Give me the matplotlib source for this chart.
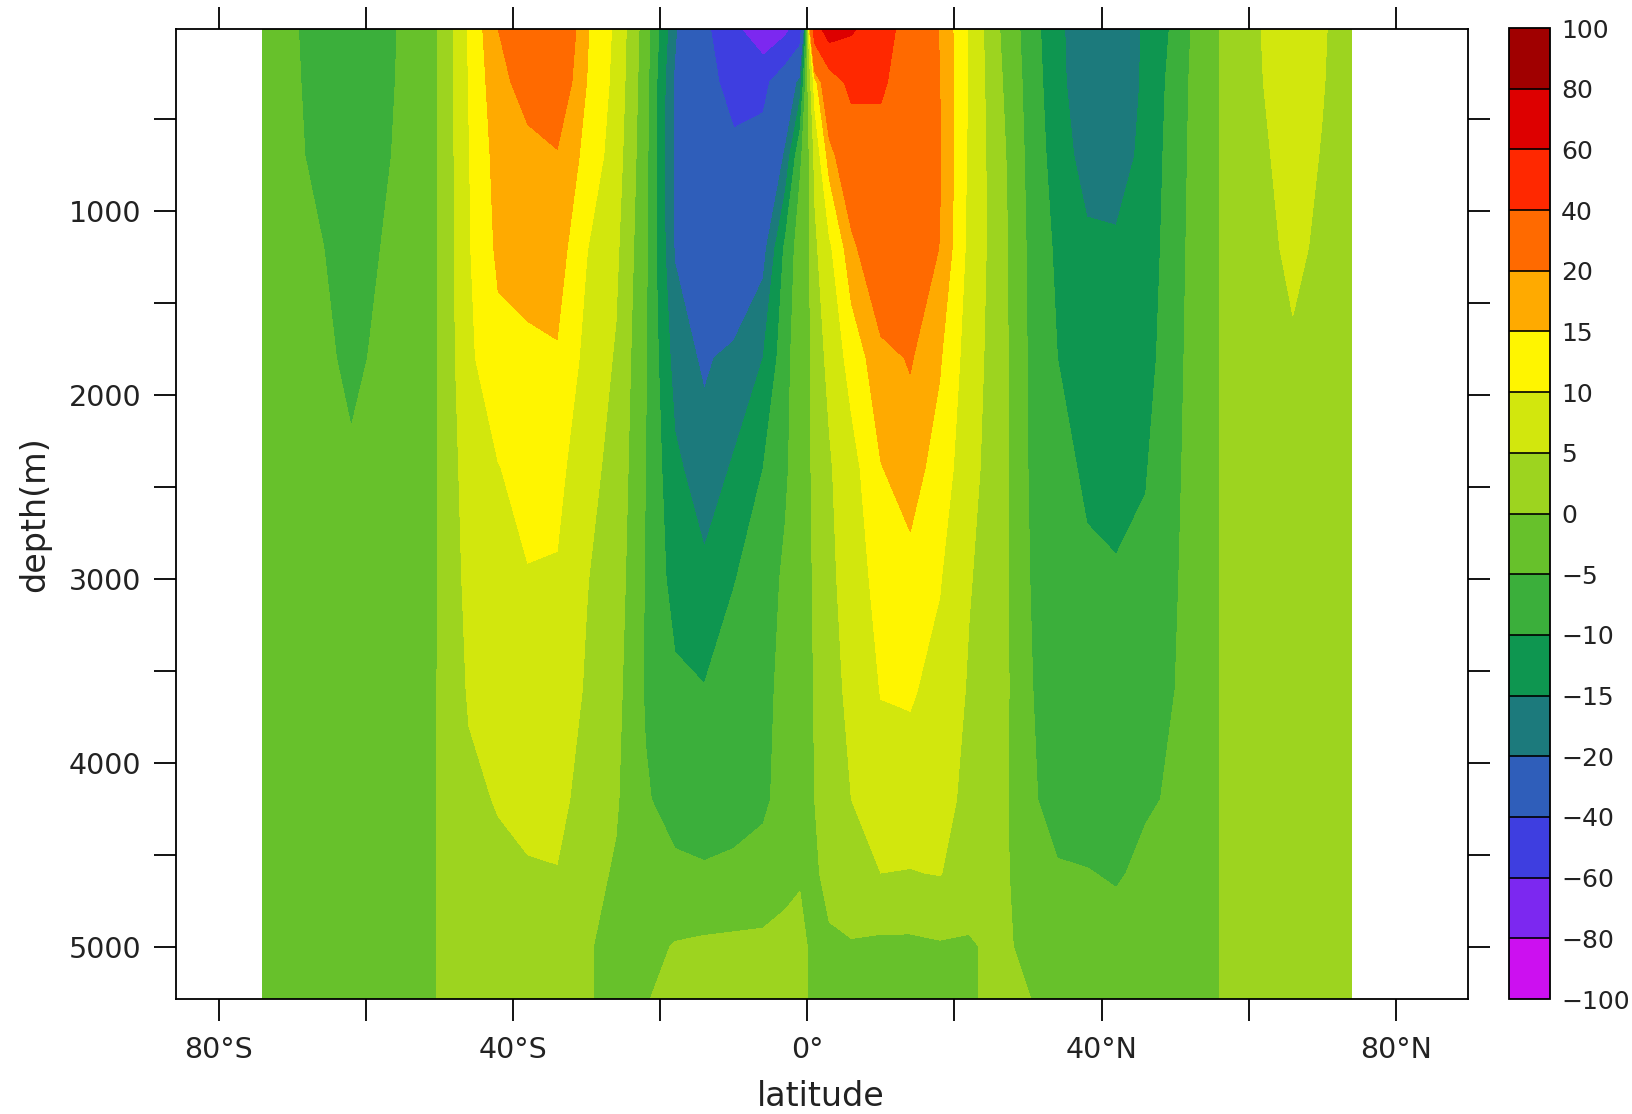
import numpy as np
import matplotlib
matplotlib.use("Agg")
import matplotlib.pyplot as plt
from matplotlib.colors import ListedColormap, BoundaryNorm

# ---------------- data ----------------
lats = [-74, -70, -66, -62, -58, -54, -50, -46, -42, -38, -34, -30, -26, -22,
        -18, -14, -10, -6, -3, -1, 0, 1, 3, 6, 10, 14, 18, 22, 26, 30, 34,
        38, 42, 46, 50, 54, 58, 62, 66, 70, 74]
depths = [12, 300, 700, 1200, 1800, 2400, 3000, 3600, 4200, 4600, 5000, 5285]

# one profile (values at the depths above) per latitude
profiles = [
    [-3.0, -3.0, -3.0, -3.0, -3.0, -3.0, -3.0, -3.0, -3.0, -3.0, -3.0, -3.0],   # -74
    [-4.6, -4.5, -4.4, -4.2, -4.0, -3.8, -3.5, -3.3, -3.2, -3.1, -3.0, -3.0],   # -70
    [-6.5, -6.2, -5.8, -4.9, -4.5, -4.0, -3.8, -3.5, -3.3, -3.2, -3.1, -3.0],   # -66
    [-8.0, -7.5, -7.0, -6.3, -5.5, -4.7, -4.3, -4.0, -3.7, -3.5, -3.3, -3.2],   # -62
    [-6.5, -6.2, -5.7, -5.0, -4.6, -4.2, -4.0, -3.8, -3.5, -3.3, -3.2, -3.1],   # -58
    [-3.8, -3.8, -3.8, -3.7, -3.6, -3.5, -3.4, -3.3, -3.2, -3.2, -3.1, -3.1],   # -54
    [0.3, 0.3, 0.3, 0.3, 0.3, 0.3, 0.3, 0.3, 0.3, 0.3, 0.3, 0.3],               # -50
    [10.5, 10.2, 9.8, 9.6, 9.0, 7.5, 6.5, 5.5, 4.0, 3.5, 3.0, 2.8],             # -46
    [20.0, 18.5, 17.0, 16.0, 13.5, 9.8, 8.5, 7.5, 5.3, 4.0, 3.2, 3.0],          # -42
    [26.0, 22.0, 18.5, 17.0, 14.0, 11.8, 9.7, 8.5, 6.5, 4.5, 3.5, 3.0],         # -38
    [28.0, 25.0, 19.5, 17.5, 14.5, 11.5, 9.5, 8.0, 6.5, 4.8, 3.5, 3.0],         # -34
    [15.5, 15.0, 13.5, 10.2, 8.5, 6.5, 5.2, 4.5, 3.0, 1.5, 0.3, 0.3],           # -30
    [9.0, 8.5, 7.5, 6.0, 4.5, 3.5, 2.5, 1.5, 0.5, -0.5, -1.0, -1.0],            # -26
    [-2.5, -3.0, -3.5, -4.0, -4.5, -5.0, -5.3, -5.5, -4.5, -2.5, -1.5, -0.2],   # -22
    [-19.0, -21.0, -21.0, -20.5, -17.0, -14.0, -12.0, -9.0, -7.0, -4.0, 0.3, 1.0],   # -18
    [-36.0, -35.0, -31.0, -27.0, -21.0, -17.5, -14.0, -9.8, -7.5, -4.5, 0.8, 1.5],   # -14
    [-55.0, -45.0, -37.0, -31.0, -18.0, -14.5, -10.2, -8.0, -7.0, -4.0, 1.0, 1.5],   # -10
    [-75.0, -45.0, -33.0, -22.0, -15.0, -10.0, -8.0, -7.0, -6.0, -3.0, 1.0, 1.0],    # -6
    [-65.0, -28.0, -19.0, -9.0, -7.0, -6.0, -4.0, -3.0, -3.0, -1.0, 1.0, 2.0],       # -3
    [-50.0, -18.0, -6.0, -2.5, -1.5, -1.5, -1.5, -2.0, -2.5, -0.5, 1.5, 2.0],        # -1
    [0.0, -1.0, -2.0, -2.0, -2.0, -2.0, -2.0, -2.5, -3.0, -1.0, 0.0, 0.0],           # 0
    [50.0, 12.0, 6.0, 4.0, 3.0, 2.0, 1.0, 0.5, 0.0, -1.0, -1.5, -2.0],               # 1
    [70.0, 30.0, 17.0, 9.0, 6.0, 4.5, 4.0, 3.5, 3.0, 2.0, -1.0, -1.5],               # 3
    [62.0, 45.0, 28.0, 18.0, 12.0, 8.0, 7.0, 6.0, 5.0, 4.0, -0.5, -1.5],             # 6
    [48.0, 42.0, 35.0, 28.0, 18.0, 14.8, 12.0, 10.2, 8.0, 5.0, -1.0, -2.0],          # 10
    [32.0, 33.0, 31.0, 27.0, 20.5, 17.0, 13.5, 10.5, 8.0, 4.8, -1.0, -2.5],          # 14
    [19.5, 20.0, 20.5, 19.8, 15.5, 13.0, 10.3, 8.5, 7.0, 5.2, -0.5, -2.0],           # 18
    [9.5, 9.5, 9.0, 8.5, 7.5, 6.5, 5.3, 4.5, 3.5, 2.5, -0.5, -0.5],                  # 22
    [0.3, 1.0, 2.0, 2.5, 2.5, 2.5, 2.5, 2.5, 2.0, 2.0, 1.0, 1.0],                    # 26
    [-7.0, -6.5, -6.0, -5.5, -5.2, -5.0, -4.8, -4.5, -4.0, -3.5, -1.0, 0.2],         # 30
    [-14.0, -13.5, -12.5, -11.0, -10.0, -9.0, -8.0, -7.5, -7.0, -4.5, -3.0, -2.0],   # 34
    [-18.0, -18.5, -17.0, -14.0, -13.0, -10.5, -9.5, -8.5, -7.5, -4.8, -3.0, -2.0],  # 38
    [-19.5, -19.0, -17.5, -14.2, -13.5, -12.5, -9.3, -8.5, -7.0, -5.5, -3.0, -2.0],  # 42
    [-14.0, -14.0, -13.5, -13.0, -12.0, -10.3, -9.0, -8.0, -5.5, -4.0, -3.0, -2.0],  # 46
    [-9.0, -8.0, -7.5, -7.0, -6.5, -6.0, -5.5, -5.0, -4.5, -3.5, -3.0, -2.5],        # 50
    [-1.5, -1.5, -1.5, -1.5, -1.5, -1.5, -1.5, -1.5, -1.5, -1.5, -1.5, -1.5],        # 54
    [1.5, 1.5, 1.5, 1.5, 1.5, 1.5, 1.5, 1.5, 1.5, 1.5, 1.5, 1.5],                    # 58
    [5.3, 5.0, 4.5, 4.0, 3.5, 3.0, 3.0, 3.0, 3.0, 3.0, 3.0, 3.0],                    # 62
    [8.0, 7.5, 6.5, 5.8, 4.5, 3.5, 3.0, 3.0, 3.0, 3.0, 3.0, 3.0],                    # 66
    [5.4, 5.2, 4.8, 4.3, 3.8, 3.3, 3.0, 3.0, 3.0, 3.0, 3.0, 3.0],                    # 70
    [3.0, 3.0, 3.0, 3.0, 3.0, 3.0, 3.0, 3.0, 3.0, 3.0, 3.0, 3.0],                    # 74
]

levels = [-100, -80, -60, -40, -20, -15, -10, -5, 0, 5, 10, 15, 20, 40, 60, 80, 100]
level_labels = ["\u2212100", "\u221280", "\u221260", "\u221240", "\u221220", "\u221215",
                "\u221210", "\u22125", "0", "5", "10", "15", "20", "40", "60", "80", "100"]
colors = ["#CC10F0", "#7C28F0", "#3E3EE0", "#2F5EBA", "#1C7A7C", "#0E9650",
          "#3BAF3B", "#67C12B", "#9DD41F", "#D2E70D", "#FFF500", "#FFAA00",
          "#FF6A00", "#FF2800", "#DD0000", "#A00000"]

xtick_vals = [-80, -60, -40, -20, 0, 20, 40, 60, 80]
xtick_labels = ["80\u00b0S", "", "40\u00b0S", "", "0\u00b0", "", "40\u00b0N", "", "80\u00b0N"]
ytick_vals = [500, 1000, 1500, 2000, 2500, 3000, 3500, 4000, 4500, 5000]
ytick_labels = ["", "1000", "", "2000", "", "3000", "", "4000", "", "5000"]

# ---------------- plot ----------------
field = np.array(profiles).T   # shape (depth, lat)

fig = plt.figure(figsize=(16.32, 11.14), dpi=100)
ax = fig.add_axes([0.10766, 0.10323, 0.79180, 0.87050])

cmap = ListedColormap(colors)
norm = BoundaryNorm(levels, cmap.N)
cs = ax.contourf(lats, depths, field, levels=levels, cmap=cmap, norm=norm)

ax.set_xlim(-85.85, 89.8)
ax.set_ylim(5285, 12)

ax.set_xticks(xtick_vals)
ax.set_xticklabels(xtick_labels)
ax.set_yticks(ytick_vals)
ax.set_yticklabels(ytick_labels)
ax.tick_params(axis="both", direction="out", length=15.8, width=1.3,
               top=True, right=True, labelsize=20.5, labelcolor="#222222")
ax.tick_params(axis="x", pad=11)
ax.tick_params(axis="y", pad=9)
for sp in ax.spines.values():
    sp.set_linewidth(1.3)

ax.set_xlabel("latitude", fontsize=24, color="#222222")
ax.xaxis.set_label_coords(0.4994, -0.0835)
ax.set_ylabel("depth(m)", fontsize=24, color="#222222")
ax.yaxis.set_label_coords(-0.0965, 0.5)

cax = fig.add_axes([0.92463, 0.10323, 0.02512, 0.87163])
cbar = fig.colorbar(cs, cax=cax, ticks=levels, drawedges=True)
cbar.ax.set_yticklabels(level_labels)
cbar.ax.tick_params(length=0, pad=8, labelsize=18, labelcolor="#222222")
cbar.outline.set_linewidth(1.3)
cbar.dividers.set_linewidth(1.2)
cbar.dividers.set_color("black")

fig.savefig("out.png", dpi=100, facecolor="white")
